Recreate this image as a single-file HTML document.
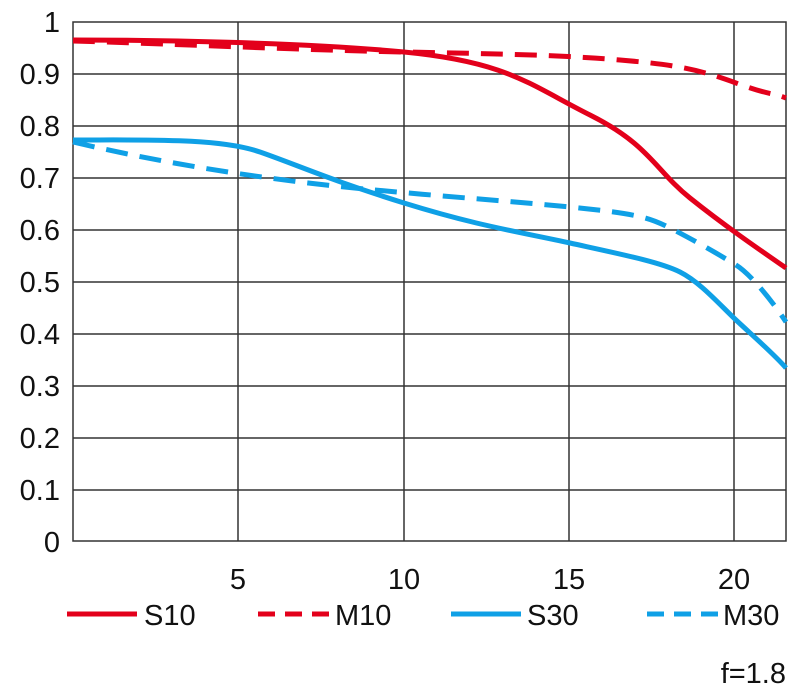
<!DOCTYPE html><html><head><style>body{margin:0;background:#fff}svg{display:block}text{font-family:"Liberation Sans",sans-serif;font-size:29px;fill:#111}</style></head><body>
<svg width="800" height="698" viewBox="0 0 800 698">
<g stroke="#333" stroke-width="1.5" fill="none">
<rect x="73" y="22" width="713" height="519"/>
<path d="M73 74H786M73 126H786M73 178H786M73 230H786M73 282H786M73 334H786M73 386H786M73 438H786M73 490H786M238 22V541M404 22V541M569 22V541M734 22V541"/>
</g>
<g text-anchor="end">
<text x="60" y="32">1</text><text x="60" y="84">0.9</text><text x="60" y="136">0.8</text><text x="60" y="188">0.7</text><text x="60" y="240">0.6</text><text x="60" y="292">0.5</text><text x="60" y="344">0.4</text><text x="60" y="396">0.3</text><text x="60" y="448">0.2</text><text x="60" y="500">0.1</text><text x="60" y="552">0</text>
</g>
<g text-anchor="middle">
<text x="238" y="589">5</text><text x="404" y="589">10</text><text x="569" y="589">15</text><text x="734" y="589">20</text>
</g>
<g fill="none" stroke-width="5">
<path stroke="#e3001b" d="M73 40C150 40 300 42 404 52S530 85 590 115S655 170 690 198S760 250 786 268"/>
<path stroke="#e3001b" stroke-dasharray="22 12" d="M73 41C150 43 300 50 404 52S560 55 620 60S700 70 736 83S770 92 786 98"/>
<path stroke="#0fa0e6" d="M73 140C150 140 220 138 260 152S330 180 404 203S520 232 570 243S660 262 680 272S720 305 736 320S775 355 786 368"/>
<path stroke="#0fa0e6" stroke-dasharray="22 12" d="M73 142C150 160 220 172 300 182S500 200 570 207S650 218 670 228S720 255 736 265S775 305 786 322"/>
</g>
<g stroke-width="5">
<path stroke="#e3001b" d="M67 614H137"/>
<path stroke="#e3001b" stroke-dasharray="17 10" d="M258 614H329"/>
<path stroke="#0fa0e6" d="M451 614H521"/>
<path stroke="#0fa0e6" stroke-dasharray="17 10" d="M647 614H718"/>
</g>
<text x="144" y="625">S10</text><text x="335" y="625">M10</text><text x="527" y="625">S30</text><text x="723" y="625">M30</text>
<text x="786" y="683" text-anchor="end">f=1.8</text>
</svg></body></html>
